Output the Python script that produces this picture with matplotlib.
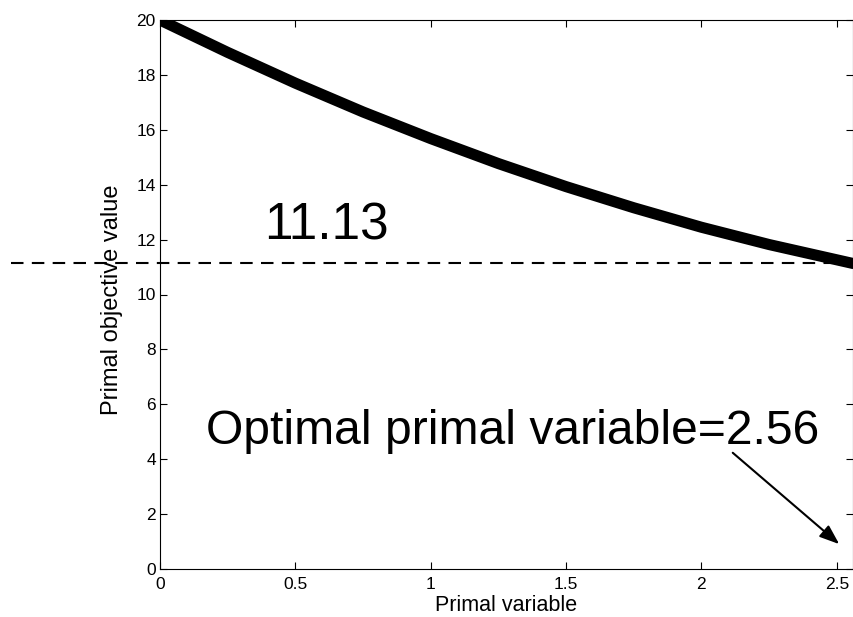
import matplotlib
matplotlib.use("Agg")
import matplotlib.pyplot as plt

# values
primal_x = [0, 0.25, 0.5, 0.75, 1.0, 1.25, 1.5, 1.75, 2.0, 2.25, 2.56]
objective = [20.0, 18.82, 17.70, 16.65, 15.68, 14.77, 13.93, 13.16, 12.45, 11.82, 11.13]
optimal_x = 2.56
optimal_value = 11.13
x_ticks = [0, 0.5, 1, 1.5, 2, 2.5]
x_tick_labels = ["0", "0.5", "1", "1.5", "2", "2.5"]
y_ticks = [0, 2, 4, 6, 8, 10, 12, 14, 16, 18, 20]

plt.rcParams['font.family'] = ['Liberation Sans', 'DejaVu Sans']

fig = plt.figure(figsize=(8.54, 6.17), dpi=100)
ax = fig.add_axes([160 / 854, 48 / 617, 693 / 854, 549 / 617])

ax.plot(primal_x, objective, color='black', linewidth=8, solid_capstyle='round')
# dashed level line runs past the left axis
ax.plot([-0.55, optimal_x], [optimal_value, optimal_value], color='black',
        linewidth=1.5, linestyle=(0, (6, 4)), clip_on=False)

ax.set_xlim(0, optimal_x)
ax.set_ylim(0, 20)
ax.set_xticks(x_ticks)
ax.set_xticklabels(x_tick_labels)
ax.set_yticks(y_ticks)
ax.tick_params(direction='in', top=True, right=True, length=5, labelsize=12.5)
ax.tick_params(axis='x', pad=6)
ax.tick_params(axis='y', pad=3)
ax.set_xlabel('Primal variable', fontsize=15.5, labelpad=2)
ax.set_ylabel('Primal objective value', fontsize=17)
ax.yaxis.set_label_coords(-0.053, 0.49)

ax.text(0.615, 12.0, '%.2f' % optimal_value, fontsize=37, ha='center', va='baseline')
ax.text(0.17, 4.55, 'Optimal primal variable=%.2f' % optimal_x, fontsize=34.6,
        ha='left', va='baseline')
ax.annotate('', xy=(2.517, 0.84), xytext=(2.108, 4.30),
            arrowprops=dict(arrowstyle='-|>,head_length=1.2,head_width=0.45',
                            color='black', lw=1.5))

fig.savefig('out.png', dpi=100)
